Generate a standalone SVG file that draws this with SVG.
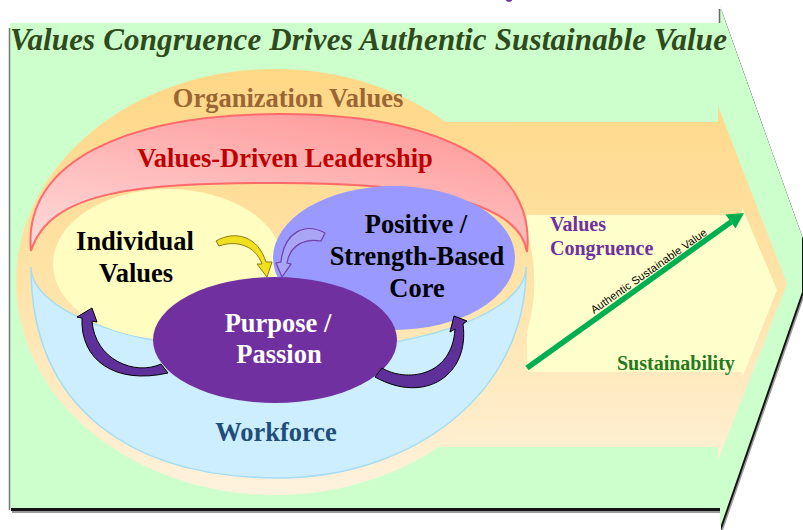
<svg xmlns="http://www.w3.org/2000/svg" width="803" height="530" viewBox="0 0 803 530">
  <defs>
    <linearGradient id="orangeGrad" gradientUnits="userSpaceOnUse" x1="0" y1="80" x2="0" y2="490">
      <stop offset="0" stop-color="#FFD888"/>
      <stop offset="0.5" stop-color="#FFE3A8"/>
      <stop offset="1" stop-color="#FFF2DC"/>
    </linearGradient>
    <linearGradient id="pinkGrad" x1="0.75" y1="0" x2="0.1" y2="1">
      <stop offset="0" stop-color="#FF9A9A"/>
      <stop offset="1" stop-color="#FFDADA"/>
    </linearGradient>
    <style>
      .lbl { font-family: "Liberation Serif", "Times New Roman", serif; font-weight: bold; font-size: 26.5px; text-anchor: middle; }
      .small { font-family: "Liberation Serif", "Times New Roman", serif; font-weight: bold; font-size: 20px; }
      .curve-dark { fill: #60309A; stroke: #000; stroke-width: 1; stroke-linejoin: round; }
    </style>
  </defs>

  <!-- stray mark at the top edge -->
  <ellipse cx="509" cy="0" rx="3" ry="1.8" fill="#7030A0"/>

  <!-- big green arrow backdrop with its shadow -->
  <g id="backdrop">
    <path d="M10,23 H720 V6 L802,236 V292 L720,528 V508 H10 Z" transform="translate(2,5)" fill="#9a9a9a"/>
    <path d="M10,23 H720 V6 L802,236 V292 L720,528 V508 H10 Z" transform="translate(1,3)" fill="#141414"/>
    <path d="M10,23 H720 V6 L802,236 V292 L720,528 V508 H10 Z" fill="#CCFFCC"/>
    <path d="M9.5,28 V510" stroke="#777" stroke-width="1.5" fill="none"/>
    <path d="M719.5,9 V23" stroke="#666" stroke-width="1.5" fill="none"/>
    <text x="10" y="50" textLength="717" lengthAdjust="spacing" font-family="'Liberation Serif', 'Times New Roman', serif" font-weight="bold" font-style="italic" font-size="31" fill="#2F4A1C">Values Congruence Drives Authentic Sustainable Value</text>
  </g>

  <!-- organization values: ellipse flowing into an arrow -->
  <g id="organization-values">
    <path d="M440,122 H718 V106 L787,284 L718,460 V447 H440 Z" fill="url(#orangeGrad)"/>
    <ellipse cx="275" cy="282" rx="259" ry="213" fill="url(#orangeGrad)"/>
    <text class="lbl" x="288" y="107" fill="#9A6634">Organization Values</text>
  </g>

  <!-- value chart panel -->
  <g id="value-panel">
    <path d="M527,215 H742 V207 L777,290 L742,378 V372 H527 V332 A259,213 0 0 0 527,232 Z" fill="#FFFFCC"/>
  </g>

  <!-- values-driven leadership band -->
  <g id="values-driven-leadership">
    <path d="M31,251 C22,160 130,114 280,114 C430,114 537,160 527,252 C520,203 430,183 280,183 C140,183 50,190 31,251 Z" fill="url(#pinkGrad)" stroke="#FF6B6B" stroke-width="2"/>
    <text class="lbl" x="285" y="167" fill="#C00000">Values-Driven Leadership</text>
  </g>

  <!-- workforce bowl -->
  <g id="workforce">
    <path d="M31,267 C31,407 129,478 279,478 C410,478 527,395 526,267 A247.5,85 0 0 1 31,267 Z" fill="#CCEEFF" stroke="#A4DCF6" stroke-width="1.5"/>
    <text class="lbl" x="276" y="441" fill="#1F4E79">Workforce</text>
  </g>

  <g id="individual-values">
    <ellipse cx="168" cy="264" rx="115" ry="75" fill="#FFFDC0"/>
    <text class="lbl" x="135" y="250" fill="#000">Individual</text>
    <text class="lbl" x="136" y="282" fill="#000">Values</text>
  </g>

  <g id="strength-based-core">
    <ellipse cx="394" cy="258" rx="121" ry="72" fill="#9999FF"/>
    <text class="lbl" x="416" y="233" fill="#000">Positive /</text>
    <text class="lbl" x="417" y="265" fill="#000">Strength-Based</text>
    <text class="lbl" x="417" y="297" fill="#000">Core</text>
  </g>

  <g id="purpose-passion">
    <ellipse cx="275" cy="340" rx="122" ry="63" fill="#7030A0"/>
    <text class="lbl" x="278" y="332" fill="#FFF">Purpose /</text>
    <text class="lbl" x="279" y="363" fill="#FFF">Passion</text>
  </g>

  <!-- curved connector arrows -->
  <g id="connectors">
    <path d="M216,241 C235,230 258,236 266,262 L272,262 L267,277 L257,264 L262,264 C255,245 236,240 219,246 Z" fill="#F0E020" stroke="#8C7A10" stroke-width="1"/>
    <path d="M325,233 C305,222 284,232 281,262 L276,263 L282,277 L291,264 L287,263 C290,245 305,238 321,241 Z" fill="#A9A6F6" stroke="#7040A8" stroke-width="1.2"/>
    <path class="curve-dark" d="M92,321 L97,322 L92,308 L77,317 L82,318 C80,360 115,385 168,373 L161,364 C135,376 95,360 92,321 Z"/>
    <path class="curve-dark" d="M382,368 C405,382 452,378 455,329 L450,332 L454,316 L467,321 L463,324 C470,375 425,405 375,377 Z"/>
  </g>

  <!-- authentic sustainable value chart -->
  <g id="value-chart">
    <line x1="527" y1="368" x2="731" y2="222" stroke="#00B050" stroke-width="5.5"/>
    <polygon points="744,213 735.5,228.5 725.5,214.5" fill="#00B050"/>
    <text transform="translate(594,314) rotate(-35)" x="0" y="0" textLength="139" lengthAdjust="spacing" font-family="'Liberation Sans', Arial, sans-serif" font-size="11" fill="#000">Authentic Sustainable Value</text>
    <text class="small" x="550" y="231" fill="#7030A0">Values</text>
    <text class="small" x="550" y="255" fill="#7030A0">Congruence</text>
    <text class="small" x="617" y="370" fill="#237A1E">Sustainability</text>
  </g>
</svg>
